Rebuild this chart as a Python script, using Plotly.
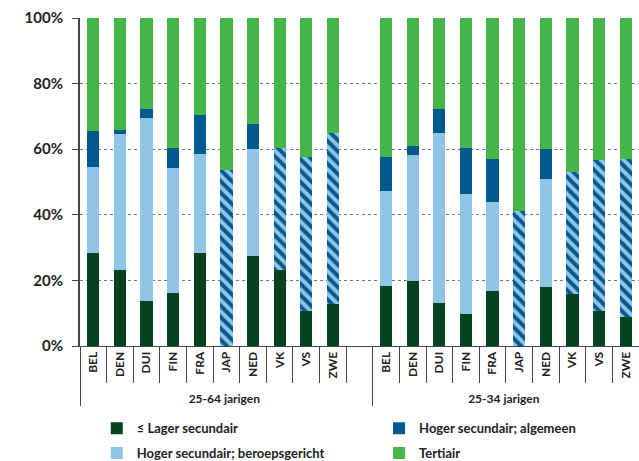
import plotly.graph_objects as go

# opleidingsniveau naar land en leeftijdsgroep (% van de bevolking)
landen = ["BEL", "DEN", "DUI", "FIN", "FRA", "JAP", "NED", "VK", "VS", "ZWE"]
groepen = ["25-64 jarigen", "25-34 jarigen"]

lager_6425 = [28.4, 23.2, 13.7, 16.2, 28.4, None, 27.4, 23.2, 10.8, 12.8]
beroeps_6425 = [26.3, 41.4, 55.8, 38.1, 30.2, None, 32.7, None, None, None]
algemeen_6425 = [10.7, 1.3, 2.8, 6.2, 11.8, None, 7.6, None, None, None]
hoger_totaal_6425 = [None, None, None, None, None, 53.7, None, 37.3, 46.8, 52.1]
tertiair_6425 = [34.6, 34.1, 27.7, 39.5, 29.6, 46.3, 32.3, 39.5, 42.4, 35.1]

lager_3425 = [18.3, 19.7, 13.2, 9.9, 16.8, None, 18.1, 15.8, 10.8, 8.8]
beroeps_3425 = [29.0, 38.5, 51.8, 36.4, 27.1, None, 32.8, None, None, None]
algemeen_3425 = [10.3, 2.9, 7.3, 14.2, 13.2, None, 9.2, None, None, None]
hoger_totaal_3425 = [None, None, None, None, None, 41.3, None, 37.3, 45.8, 48.3]
tertiair_3425 = [42.4, 38.9, 27.7, 39.5, 42.9, 58.7, 39.9, 46.9, 43.4, 42.9]

y_ticks = [0, 20, 40, 60, 80, 100]
y_labels = ["0%", "20%", "40%", "60%", "80%", "100%"]

# lege kolom tussen de twee groepen
x_groep = [groepen[0]] * (len(landen) + 1) + [groepen[1]] * len(landen)
x_land = landen + [" "] + landen


def samen(a, b):
    return a + [None] + b


DONKERGROEN = "#03431f"
LICHTBLAUW = "#8fc6e8"
DONKERBLAUW = "#02598e"
GROEN = "#45b649"

fig = go.Figure()
fig.add_bar(x=[x_groep, x_land], y=samen(lager_6425, lager_3425),
            name="≤ Lager secundair", marker_color=DONKERGROEN,
            legend="legend", legendgroup="a")
fig.add_bar(x=[x_groep, x_land], y=samen(beroeps_6425, beroeps_3425),
            name="Hoger secundair; beroepsgericht", marker_color=LICHTBLAUW,
            legend="legend", legendgroup="b")
fig.add_bar(x=[x_groep, x_land], y=samen(hoger_totaal_6425, hoger_totaal_3425),
            name="Hoger secundair (totaal)", showlegend=False,
            marker=dict(color=LICHTBLAUW,
                        pattern=dict(shape="\\", fgcolor=DONKERBLAUW, bgcolor=LICHTBLAUW,
                                     fgopacity=1, size=8, solidity=0.5, fillmode="replace")))
fig.add_bar(x=[x_groep, x_land], y=samen(algemeen_6425, algemeen_3425),
            name="Hoger secundair; algemeen", marker_color=DONKERBLAUW,
            legend="legend2", legendgroup="c")
fig.add_bar(x=[x_groep, x_land], y=samen(tertiair_6425, tertiair_3425),
            name="Tertiair", marker_color=GROEN,
            legend="legend2", legendgroup="d")

fig.update_traces(marker_line_width=0, hoverinfo="skip")

legend_font = dict(size=13, family="Lato", weight="bold", color="#222222")
fig.update_layout(
    width=639, height=461,
    barmode="stack", bargap=0.54,
    margin=dict(l=80, r=0, t=18, b=115, autoexpand=False),
    paper_bgcolor="white", plot_bgcolor="white",
    font=dict(family="Lato", color="#222222"),
    legend=dict(orientation="v", x=0.03, y=-0.205, xanchor="left", yanchor="top",
                traceorder="grouped", tracegroupgap=5, font=legend_font, itemwidth=30),
    legend2=dict(orientation="v", x=0.535, y=-0.205, xanchor="left", yanchor="top",
                 traceorder="grouped", tracegroupgap=5, font=legend_font, itemwidth=30),
)
fig.update_yaxes(range=[0, 100], tickvals=y_ticks, ticktext=y_labels, automargin=False,
                 tickfont=dict(size=15, family="Lato", weight="bold", color="#222222"),
                 ticklabelstandoff=6,
                 showgrid=True, gridcolor="#777777", griddash="dot", gridwidth=1,
                 showline=True, linecolor="#444444", linewidth=2,
                 ticks="outside", ticklen=6, tickcolor="#444444", zeroline=False)
fig.update_xaxes(type="multicategory", tickangle=-90, automargin=False,
                 tickfont=dict(size=12, family="Lato", weight="bold", color="#222222"),
                 showline=True, linecolor="#444444", linewidth=1,
                 ticks="outside", ticklen=36, tickcolor="#444444",
                 showdividers=True, dividercolor="#444444", dividerwidth=1)

# de pagina zelf zonder witrand, zodat de figuur precies in het venster past
fig.write_html("out.html", config={"displayModeBar": False},
               post_script="document.body.style.margin='0';")
